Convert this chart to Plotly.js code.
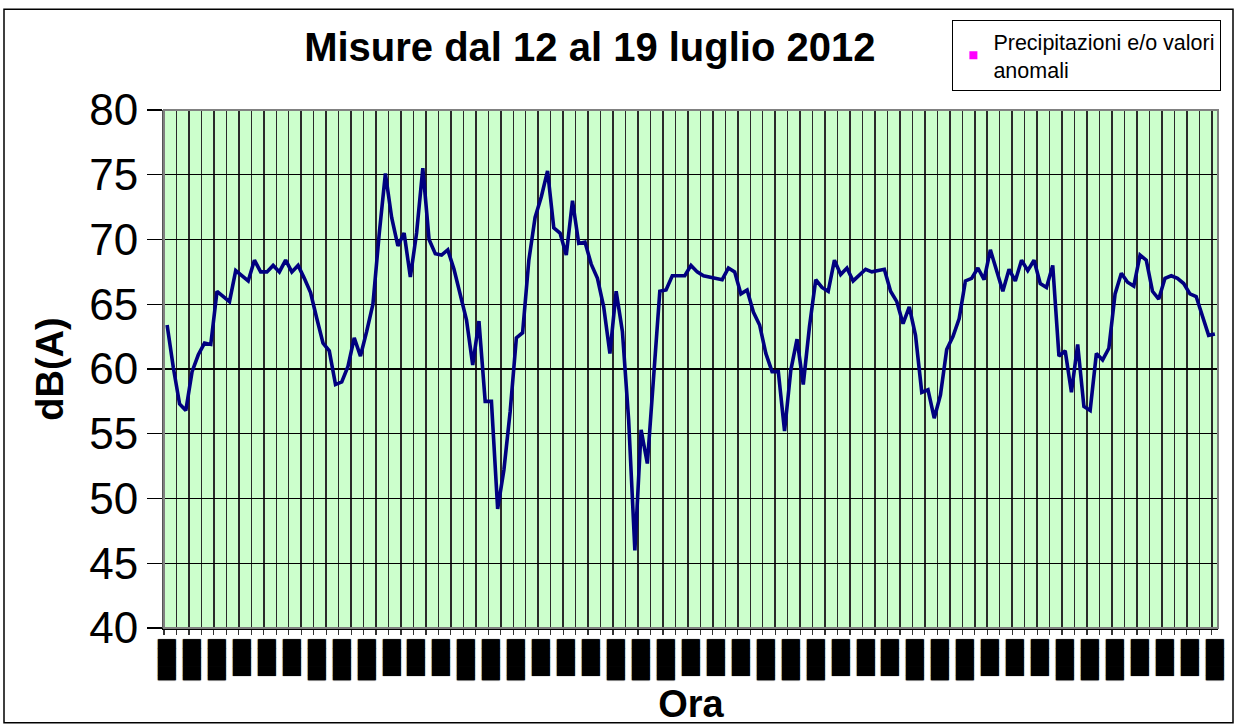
<!DOCTYPE html>
<html>
<head>
<meta charset="utf-8">
<script src="https://cdn.plot.ly/plotly-3.0.1.min.js"></script>
<style>html,body{margin:0;padding:0;background:#fff;}#chart{width:1236px;height:725px;}</style>
</head>
<body>
<div id="chart"></div>
<script>
// Hourly noise levels, 12 Jul 2012 12:00 -> 19 Jul 2012 12:00 (169 points)
const levels = [
  63.4, 60.1, 57.3, 56.8, 59.8, 61.1, 62.0, 61.9, 66.0, 65.6,
  65.2, 67.6, 67.2, 66.8, 68.4, 67.5, 67.5, 68.0, 67.5, 68.4,
  67.5, 68.0, 67.0, 65.9, 63.9, 62.0, 61.4, 58.8, 59.0, 60.2,
  62.4, 61.0, 62.9, 65.0, 70.4, 75.1, 71.7, 69.5, 70.5, 67.1,
  70.5, 75.5, 70.0, 68.9, 68.8, 69.2, 67.7, 65.7, 63.8, 60.3,
  63.7, 57.5, 57.5, 49.2, 52.2, 56.7, 62.4, 62.8, 68.4, 71.7,
  73.3, 75.3, 70.9, 70.5, 68.8, 73.0, 69.7, 69.8, 68.1, 67.0,
  64.8, 61.2, 66.0, 62.9, 56.1, 46.0, 55.3, 52.7, 59.2, 66.0,
  66.1, 67.2, 67.2, 67.2, 68.0, 67.5, 67.2, 67.1, 67.0, 66.9,
  67.8, 67.5, 65.8, 66.1, 64.4, 63.4, 61.2, 59.8, 59.8, 55.2,
  59.9, 62.3, 58.8, 63.3, 66.9, 66.3, 66.0, 68.4, 67.3, 67.8,
  66.8, 67.3, 67.7, 67.5, 67.6, 67.7, 66.0, 65.2, 63.5, 64.8,
  62.6, 58.2, 58.4, 56.2, 58.0, 61.5, 62.5, 63.9, 66.8, 67.0,
  67.8, 66.9, 69.2, 67.5, 66.0, 67.7, 66.8, 68.4, 67.6, 68.4,
  66.6, 66.3, 68.0, 61.0, 61.4, 58.2, 61.9, 57.1, 56.8, 61.2,
  60.7, 61.6, 65.8, 67.4, 66.7, 66.4, 68.8, 68.4, 66.0, 65.4,
  67.0, 67.2, 67.0, 66.6, 65.8, 65.6, 64.2, 62.6, 62.7
];
const hourIndex = levels.map((_, i) => i);

// Tick labels every 4 hours; in the reference they render as solid black blocks
// (two-digit hours longer than one-digit hours).
const tickHours = ["12:00","16:00","20:00","0:00","4:00","8:00"];
const tickPositions = [];
const tickLabels = [];
for (let i = 0; i < levels.length; i += 4) {
  tickPositions.push(i);
  const h = tickHours[(i / 4) % 6];
  tickLabels.push(h.length === 5 ? "\u2590\u2588\u2588\u2588\u2588" : "\u2588\u2588\u2588\u2588");
}

const chartTitle = "Misure dal 12 al 19 luglio 2012";
const yTitle = "dB(A)";
const xTitle = "Ora";
const legendName = "Precipitazioni e/o valori<br>anomali";

const traces = [
  {
    x: hourIndex, y: levels, type: "scatter", mode: "lines",
    line: {color: "#000080", width: 3.6}, showlegend: false, hoverinfo: "skip"
  },
  {
    x: [0], y: [null], type: "scatter", mode: "markers", name: legendName,
    marker: {color: "#FF00FF", symbol: "square", size: 8}, showlegend: true
  }
];

const F = "Liberation Sans, Arial, sans-serif";
const layout = {
  width: 1236, height: 725,
  margin: {l: 164, r: 18, t: 110, b: 97, pad: 0},
  paper_bgcolor: "#ffffff",
  plot_bgcolor: "#CCFFCC",
  font: {family: F, color: "#000"},
  title: {
    text: "<b>" + chartTitle + "</b>",
    font: {family: F, size: 40, color: "#000"},
    xref: "paper", x: 0.404, xanchor: "center",
    yref: "container", y: 1 - 47/725, yanchor: "middle"
  },
  xaxis: {
    range: [-0.5, 168.5], autorange: false, fixedrange: true,
    tickmode: "array", tickvals: tickPositions, ticktext: tickLabels,
    tickangle: -90, ticks: "", showgrid: false, zeroline: false,
    tickfont: {family: "DejaVu Sans Mono", size: 15, color: "#000", shadow: "0px 0px 1px #000"},
    ticklabelstandoff: 4,
    showline: true, linecolor: "#000", linewidth: 1.5,
    minor: {tickmode: "linear", tick0: -0.5, dtick: 2, ticks: "outside", ticklen: 5,
            tickcolor: "#333", tickwidth: 1.2, showgrid: true, gridcolor: "#2a2a2a", gridwidth: 1.5},
    title: {text: "<b>" + xTitle + "</b>", font: {family: F, size: 38, color: "#000"}, standoff: 2},
    automargin: false
  },
  yaxis: {
    range: [40, 80], autorange: false, fixedrange: true,
    tickmode: "linear", tick0: 40, dtick: 5,
    ticks: "outside", ticklen: 15, tickcolor: "#000", tickwidth: 1.2,
    showgrid: true, gridcolor: "#000", gridwidth: 1.3, zeroline: false,
    tickfont: {family: F, size: 44, color: "#000"},
    showline: true, linecolor: "#555", linewidth: 2,
    title: {text: "<b>" + yTitle + "</b>", font: {family: F, size: 38, color: "#000"}, standoff: 14},
    automargin: false
  },
  legend: {
    x: 0.748, y: 1.174, xanchor: "left", yanchor: "top",
    bgcolor: "#ffffff", bordercolor: "#000", borderwidth: 1,
    font: {family: F, size: 21.5, color: "#000"}
  },
  shapes: [
    {type: "rect", xref: "paper", yref: "paper", x0: 0, x1: 1, y0: 0, y1: 1,
     line: {color: "#808080", width: 2}, fillcolor: "rgba(0,0,0,0)"},
    {type: "rect", xref: "paper", yref: "paper",
     x0: (4 - 164) / 1054, x1: (1233 - 164) / 1054,
     y0: (627.5 - 722) / 517, y1: (627.5 - 10) / 517,
     line: {color: "#000", width: 1.5}, fillcolor: "rgba(0,0,0,0)"}
  ],
  showlegend: true
};

Plotly.newPlot("chart", traces, layout, {displayModeBar: false, staticPlot: true});
</script>
</body>
</html>
